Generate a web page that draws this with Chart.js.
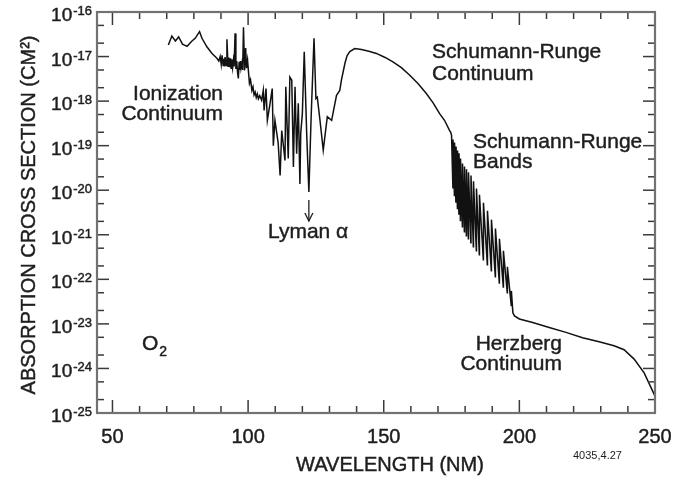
<!DOCTYPE html>
<html>
<head>
<meta charset="utf-8">
<script src="https://cdn.jsdelivr.net/npm/chart.js@4.4.1/dist/chart.umd.min.js"></script>
<style>
  html, body { margin: 0; padding: 0; background: #fff; }
  #wrap { width: 674px; height: 478px; }
</style>
</head>
<body>
<div id="wrap"><canvas id="chart" width="674" height="478"></canvas></div>
<script>
// wavelength in nm, cross section as log10(cm^2)
const ionNm = [70.6, 71.9, 73.2, 74.4, 75.8, 77.5, 79.3, 80.5, 82.1, 83.0, 84.8, 86.7, 88.5,
  89.2, 89.7, 90.1, 90.4, 90.8, 91.0, 91.3, 91.5, 91.9, 92.2, 92.6, 92.9, 93.2, 93.5, 93.75, 94.0,
  94.3, 94.6, 94.85, 95.2, 95.5, 95.8, 96.1, 96.4, 96.7, 96.9, 97.2, 97.4, 97.8, 98.0, 98.3, 98.7,
  99.1, 99.4, 99.8, 100.1, 100.5, 100.9, 101.4, 101.8, 102.2, 102.6, 103.0, 103.4, 103.8, 104.3,
  105.0, 105.6, 105.9, 106.6, 107.1, 108.1, 108.9, 109.3, 109.9, 111.1, 111.8, 112.4, 113.6, 113.9,
  114.8, 115.4, 116.1, 116.7, 117.3, 117.9, 118.5, 119.1, 119.4, 120.0, 120.7, 121.6, 122.4, 123.2,
  124.3, 125.0, 125.5, 126.5, 127.7, 129.2, 130.8, 131.4];
const ionLog = [-16.74, -16.54, -16.65, -16.56, -16.72, -16.77, -16.65, -16.59, -16.44, -16.59, -16.78, -16.93, -17.04,
  -17.10, -17.00, -17.18, -16.97, -17.20, -17.05, -17.22, -17.01, -17.20, -16.61, -17.22, -17.02, -17.24, -17.04, -17.26, -17.06,
  -17.25, -17.08, -17.22, -16.48, -17.28, -17.10, -17.35, -17.49, -17.12, -17.30, -17.10, -17.26, -17.12, -17.30, -16.34, -17.31,
  -16.81, -17.26, -17.08, -17.31, -17.60, -17.52, -17.76, -17.68, -17.86, -17.80, -17.92, -17.84, -17.95, -17.88,
  -17.98, -17.76, -18.21, -17.72, -18.43, -18.05, -17.72, -19.0, -18.43, -18.95, -19.67, -18.66, -19.33, -17.68,
  -19.29, -17.46, -17.53, -19.48, -17.68, -19.18, -18.05, -19.86, -18.73, -18.28, -16.89, -18.73, -20.04, -18.43,
  -16.59, -17.94, -17.91, -18.43, -19.1, -18.35, -18.43, -18.24];

const srcNm = [132.6, 133.8, 134.4, 135.7, 136.5, 137.5, 139.3, 141.8, 144.5, 147.3, 150.5, 153.4, 156.5,
  159.6, 162.7, 165.7, 168.2, 170.6, 172.4, 174.3, 174.7];
const srcLog = [-17.87, -17.76, -17.53, -17.15, -16.98, -16.89, -16.82, -16.84, -16.88, -16.93, -17.02, -17.12, -17.25,
  -17.42, -17.61, -17.83, -18.04, -18.28, -18.43, -18.66, -18.70];

// Schumann-Runge bands: band head peak, then trough just before the next head
const bandNm = [175.00, 175.50, 175.55, 176.05, 176.10, 176.60, 176.65, 177.16, 177.21, 177.71, 177.76, 178.26,
  178.31, 178.99, 179.04, 179.73, 179.78, 180.46, 180.51, 181.20, 181.25, 182.12, 182.17, 183.04, 183.09,
  184.14, 184.19, 185.24, 185.29, 186.71, 186.76, 188.19, 188.24, 189.66, 189.71, 191.13, 191.18, 192.60,
  192.65, 194.07, 194.12, 195.54, 195.59, 197.01, 197.06, 197.61];
const bandLog = [-18.77, -19.96, -18.86, -20.12, -18.93, -20.28, -19.02, -20.41, -19.11, -20.55, -19.17, -20.68,
  -19.29, -20.82, -19.40, -20.93, -19.47, -21.02, -19.53, -21.09, -19.60, -21.18, -19.67, -21.27, -19.80,
  -21.36, -19.96, -21.45, -20.10, -21.56, -20.28, -21.67, -20.46, -21.81, -20.66, -21.94, -20.86, -22.08,
  -21.09, -22.17, -21.36, -22.30, -21.72, -22.59, -22.26, -22.75];

const hzNm = [198.2, 200.0, 204.9, 211.0, 217.2, 223.3, 229.4, 234.9, 238.6, 242.3, 246.0, 250.0];
const hzLog = [-22.82, -22.89, -22.97, -23.08, -23.19, -23.31, -23.40, -23.49, -23.58, -23.79, -24.10, -24.62];

const xTickValues = [50, 100, 150, 200, 250];
const yTickExponents = [-16, -17, -18, -19, -20, -21, -22, -23, -24, -25];

const FONT = '"Liberation Sans", Arial, Helvetica, sans-serif';
const INK = '#1e1e1e';

let points = [];
function addSegment(nm, lg) {
  for (let i = 0; i < nm.length; i++) {
    points.push({ x: nm[i], y: Math.pow(10, lg[i]) });
  }
}
addSegment(ionNm, ionLog);
addSegment(srcNm, srcLog);
addSegment(bandNm, bandLog);
addSegment(hzNm, hzLog);

const notes = [
  { text: 'Ionization', x: 223, y: 100, align: 'right' },
  { text: 'Continuum', x: 223, y: 120, align: 'right' },
  { text: 'Schumann-Runge', x: 432, y: 58, align: 'left' },
  { text: 'Continuum', x: 432, y: 80, align: 'left' },
  { text: 'Schumann-Runge', x: 473, y: 148, align: 'left' },
  { text: 'Bands', x: 473, y: 168, align: 'left' },
  { text: 'Herzberg', x: 562, y: 350, align: 'right' },
  { text: 'Continuum', x: 562, y: 370, align: 'right' },
  { text: 'Lyman \u03b1', x: 268, y: 238, align: 'left' },
];

function line(ctx, x1, y1, x2, y2) {
  ctx.beginPath();
  ctx.moveTo(x1, y1);
  ctx.lineTo(x2, y2);
  ctx.stroke();
}

// text with a hairline stroke so it reads a bit heavier, like the original
function text(ctx, s, x, y) {
  ctx.fillText(s, x, y);
  ctx.strokeText(s, x, y);
}

const framePlugin = {
  id: 'frame',
  afterDatasetsDraw(chart) {
    let ctx = chart.ctx;
    let a = chart.chartArea;
    let xs = chart.scales.x;
    let ys = chart.scales.y;
    ctx.save();

    // inward ticks on all four sides
    ctx.strokeStyle = '#3a3a3a';
    ctx.lineWidth = 1.5;
    for (let v = 50; v <= 250; v += 10) {
      let px = xs.getPixelForValue(v);
      let len = v % 50 === 0 ? 13 : 7;
      line(ctx, px, a.bottom, px, a.bottom - len);
      line(ctx, px, a.top, px, a.top + len);
    }
    yTickExponents.forEach(function (e) {
      let py = ys.getPixelForValue(Math.pow(10, e));
      line(ctx, a.left, py, a.left + 12, py);
      line(ctx, a.right, py, a.right - 12, py);
      if (e > -25) {
        [2, 5].forEach(function (m) {
          let pm = ys.getPixelForValue(m * Math.pow(10, e - 1));
          line(ctx, a.left, pm, a.left + 7, pm);
          line(ctx, a.right, pm, a.right - 7, pm);
        });
      }
    });

    // frame
    ctx.strokeStyle = '#727272';
    ctx.lineWidth = 2.2;
    ctx.strokeRect(a.left, a.top, a.right - a.left, a.bottom - a.top);

    ctx.fillStyle = INK;
    ctx.strokeStyle = INK;
    ctx.lineWidth = 0.45;
    ctx.textBaseline = 'alphabetic';

    // x tick labels
    ctx.font = '20px ' + FONT;
    ctx.textAlign = 'center';
    xTickValues.forEach(function (v) {
      text(ctx, String(v), xs.getPixelForValue(v), a.bottom + 30);
    });

    // y tick labels: 10 with superscript exponent
    yTickExponents.forEach(function (e) {
      let py = ys.getPixelForValue(Math.pow(10, e));
      let sup = String(e);
      ctx.font = '13px ' + FONT;
      let supW = ctx.measureText(sup).width;
      ctx.textAlign = 'right';
      text(ctx, sup, 92, py + 3);
      ctx.font = '19px ' + FONT;
      text(ctx, '10', 92 - supW - 1, py + 9);
    });

    // axis titles
    ctx.font = '20px ' + FONT;
    ctx.textAlign = 'center';
    text(ctx, 'WAVELENGTH (NM)', 390, 471);
    ctx.save();
    ctx.translate(35, 215);
    ctx.rotate(-Math.PI / 2);
    text(ctx, 'ABSORPTION CROSS SECTION (CM\u00b2)', 0, 0);
    ctx.restore();

    ctx.font = '11px ' + FONT;
    ctx.textAlign = 'left';
    ctx.fillText('4035,4.27', 573, 459);

    // annotations
    ctx.font = '21px ' + FONT;
    notes.forEach(function (n) {
      ctx.textAlign = n.align;
      text(ctx, n.text, n.x, n.y);
    });

    // O2 with subscript
    ctx.textAlign = 'left';
    ctx.font = '21px ' + FONT;
    text(ctx, 'O', 142, 350);
    let ow = ctx.measureText('O').width;
    ctx.font = '14px ' + FONT;
    text(ctx, '2', 142 + ow + 1, 356);

    // Lyman alpha arrow
    let ax = xs.getPixelForValue(122.4);
    ctx.lineWidth = 1.3;
    line(ctx, ax, 200, ax, 221);
    ctx.beginPath();
    ctx.moveTo(ax - 4, 213);
    ctx.lineTo(ax, 221);
    ctx.lineTo(ax + 4, 213);
    ctx.stroke();

    ctx.restore();
  },
};

new Chart(document.getElementById('chart'), {
  type: 'line',
  data: {
    datasets: [{
      label: 'O2',
      data: points,
      borderColor: '#111',
      borderWidth: 1.5,
      pointRadius: 0,
      tension: 0,
      fill: false,
    }],
  },
  options: {
    responsive: false,
    animation: false,
    devicePixelRatio: 1,
    layout: { padding: { left: 97, top: 12, right: 19, bottom: 65 } },
    plugins: { legend: { display: false }, tooltip: { enabled: false } },
    scales: {
      x: { type: 'linear', min: 44.3, max: 250, display: false },
      y: { type: 'logarithmic', min: 1e-25, max: 1e-16, display: false },
    },
  },
  plugins: [framePlugin],
});
</script>
</body>
</html>
